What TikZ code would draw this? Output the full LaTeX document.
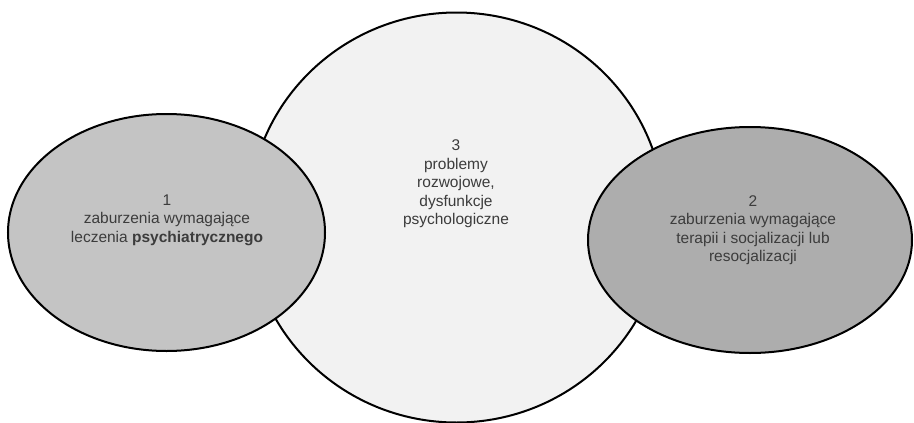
\documentclass[tikz,border=0pt]{standalone}
\usepackage{fontspec}
\setmainfont{Liberation Sans}
\usetikzlibrary{shapes.geometric}
\definecolor{fillL}{HTML}{C4C4C4}
\definecolor{fillR}{HTML}{ADADAD}
\definecolor{fillC}{HTML}{F2F2F2}
\definecolor{txt}{HTML}{3C3C3C}
\begin{document}
\begin{tikzpicture}[x=1pt,y=-1pt,
  blob/.style={ellipse,draw=black,line width=2pt,inner sep=0pt,outer sep=0pt},
  label/.style={align=center,text=txt,font=\fontsize{15.5}{18.5}\selectfont,inner sep=0pt}]
\useasboundingbox (0,0) rectangle (914,423);
\node[blob,fill=fillC,minimum width=416pt,minimum height=410pt] (c) at (456.5,217.5) {};
\node[blob,fill=fillL,minimum width=317pt,minimum height=237pt] (l) at (166.5,232.5) {};
\node[blob,fill=fillR,minimum width=324pt,minimum height=226pt] (r) at (750,240) {};
\node[label] (tc) at (456,184) {3\\problemy\\rozwojowe,\\dysfunkcje\\psychologiczne};
\node[label] (tl) at (167,220) {1\\zaburzenia wymagające\\leczenia \textbf{psychiatrycznego}};
\node[label] (tr) at (753,230) {2\\zaburzenia wymagające\\terapii i socjalizacji lub\\resocjalizacji};
\end{tikzpicture}
\end{document}
